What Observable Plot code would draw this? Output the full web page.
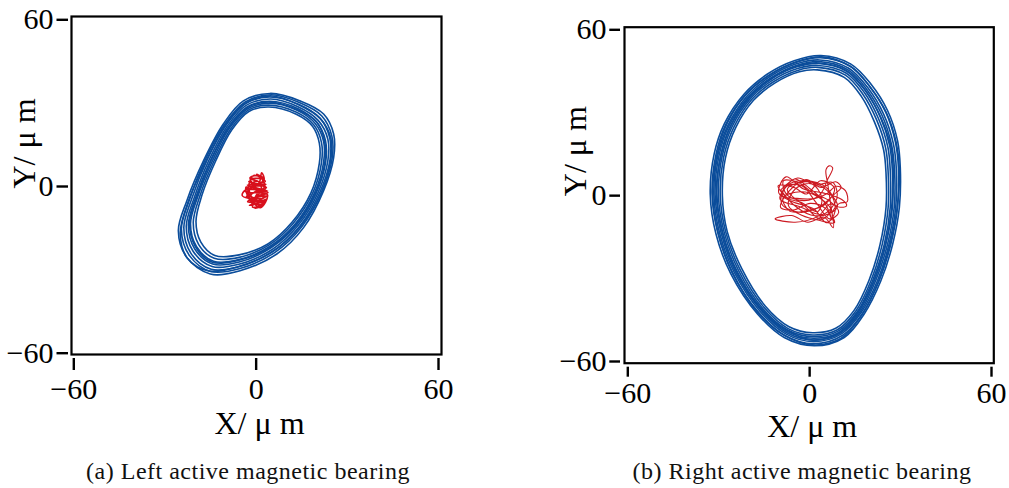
<!DOCTYPE html>
<html>
<head>
<meta charset="utf-8">
<script src="https://cdn.jsdelivr.net/npm/d3@7"></script>
<script src="https://cdn.jsdelivr.net/npm/@observablehq/plot@0.6"></script>
<style>
  html, body { margin: 0; padding: 0; background: #fff; }
  #wrap { position: relative; width: 1009px; height: 488px; overflow: hidden; background: #fff; }
  .panel { position: absolute; top: 0; }
  .cap { position: absolute; top: 459px; width: 460px; text-align: center;
         font-family: "Liberation Serif", "Times New Roman", Tinos, Times, serif; font-size: 24px; line-height: 24px;
         letter-spacing: 0.5px; color: #111; white-space: nowrap; }
  svg text { font-family: "Liberation Serif", "Times New Roman", Tinos, Times, serif; }
  g[aria-label="x-axis tick label"], g[aria-label="y-axis tick label"],
  g[aria-label="x-axis tick label"] text, g[aria-label="y-axis tick label"] text { font-size: 30px !important; }
</style>
</head>
<body>
<div id="wrap"></div>
<script>
// ---------- data (µm) ----------
const axisTicks = [-60, 0, 60];
const xAxisLabel = "X/ μ m";
const yAxisLabel = "Y/ μ m";
const captions = ["(a) Left active magnetic bearing", "(b) Right active magnetic bearing"];

// Left bearing: rotor orbit loops (blue)
const leftBlueLoops = [
  [[4.6,33.5],[14.5,30.8],[22.2,26.1],[25.5,18.9],[25.5,10.4],[22.2,-1.5],[15.6,-14.8],[6.8,-24.3],[-5.3,-30.3],[-15.1,-31.5],[-22.8,-25.6],[-25.6,-15.9],[-22.8,-5.1],[-17.3,9.3],[-10.8,22.5],[-4.2,30.8]],
  [[5.0,33.0],[14.2,30.2],[21.6,25.4],[24.9,18.2],[25.0,10.0],[21.6,-1.9],[15.0,-14.5],[6.2,-23.7],[-5.6,-29.6],[-14.9,-30.6],[-22.0,-24.8],[-24.6,-15.3],[-21.9,-4.6],[-16.8,9.5],[-10.4,22.3],[-3.6,30.4]],
  [[4.4,32.2],[13.9,29.6],[21.0,24.6],[24.2,17.6],[24.3,9.6],[21.0,-2.0],[14.4,-14.2],[5.8,-23.1],[-5.8,-28.9],[-14.8,-29.8],[-21.5,-24.0],[-23.8,-14.8],[-21.2,-4.4],[-16.2,9.4],[-10.0,21.9],[-3.6,29.8]],
  [[4.8,31.5],[13.6,28.8],[20.4,23.8],[23.6,17.0],[23.6,9.3],[20.4,-2.1],[13.9,-13.9],[5.4,-22.6],[-5.7,-28.0],[-14.5,-28.8],[-20.8,-23.2],[-23.0,-14.3],[-20.4,-4.1],[-15.6,9.3],[-9.6,21.6],[-3.3,29.2]],
  [[4.4,30.7],[13.8,28.0],[20.0,23.0],[22.8,16.6],[22.9,9.0],[19.8,-2.2],[13.4,-13.7],[5.0,-22.0],[-5.6,-27.2],[-14.3,-27.9],[-20.2,-22.5],[-22.3,-13.9],[-19.8,-3.8],[-15.0,9.3],[-9.2,21.3],[-3.0,28.6]],
  [[4.6,30.0],[13.5,27.4],[19.5,22.6],[22.2,16.2],[22.2,8.8],[19.2,-2.3],[12.9,-13.4],[4.6,-21.5],[-5.6,-26.3],[-14.0,-26.9],[-19.6,-21.7],[-21.6,-13.4],[-19.2,-3.6],[-14.4,9.2],[-8.8,21.0],[-2.8,28.0]],
  [[4.2,29.3],[13.3,26.7],[19.0,22.1],[21.5,15.8],[21.5,8.6],[18.6,-2.4],[12.3,-13.1],[4.3,-21.0],[-5.6,-25.5],[-13.8,-25.8],[-18.9,-20.9],[-20.7,-13.0],[-18.5,-3.3],[-13.9,9.1],[-8.4,20.7],[-2.6,27.5]],
  [[4.2,28.6],[13.2,26.0],[18.6,21.6],[20.8,15.5],[20.8,8.4],[18.0,-2.4],[11.8,-12.9],[4.0,-20.6],[-5.6,-24.6],[-13.6,-24.8],[-18.2,-20.0],[-19.8,-12.6],[-17.8,-3.0],[-13.4,9.0],[-8.0,20.4],[-2.4,27.0]],
  [[5.2,32.6],[14.0,29.4],[21.3,24.2],[24.6,17.3],[24.6,9.9],[21.3,-2.6],[14.8,-14.0],[5.6,-23.3],[-6.2,-29.0],[-15.6,-30.4],[-22.6,-25.8],[-25.0,-17.0],[-22.4,-5.6],[-16.6,8.9],[-10.2,22.0],[-3.4,30.0]],
  [[4.0,30.4],[13.0,27.9],[19.8,23.4],[22.5,16.4],[22.6,8.6],[19.4,-2.8],[13.0,-13.8],[4.8,-21.8],[-6.0,-26.6],[-14.6,-27.2],[-20.0,-21.6],[-21.9,-12.9],[-19.4,-3.2],[-14.8,9.6],[-9.0,21.2],[-2.9,28.4]]
];

// Left bearing: controlled orbit (red)
const leftRedPath = [[0.2,4.4],[2.3,3.1],[-1.8,2.8],[3.2,0.8],[-2.9,0.5],[3.8,-1.6],[-3.4,-1.2],[-4.6,-3.2],[-2.6,-4.2],[3.6,-3.4],[-2.2,-6.8],[3.2,-5.4],[-0.4,-7.8],[1.8,-7.0],[-1.6,-5.2],[3.9,-2.2],[-3.0,-2.0],[2.6,2.4],[1.8,4.9],[0.8,1.0],[-2.4,1.8],[3.4,-0.4],[-3.2,-3.6],[2.8,-6.0],[-1.2,-7.4],[0.6,-3.0],[-2.0,3.2],[1.2,3.6],[2.9,-1.0],[-3.3,-0.2],[-1.0,-6.2],[3.4,-4.6],[0.0,-5.6],[-2.8,-5.4],[2.0,-2.4],[-1.4,0.0],[3.0,1.8],[-0.8,4.0],[-2.6,-2.6],[1.4,-7.6],[3.7,-2.9],[-3.6,-1.8],[0.4,2.0],[2.2,-4.2],[-1.9,-3.4],[1.0,-1.2],[-0.6,-4.4],[2.6,0.0],[-2.2,-0.8],[0.2,-6.8]];

// Right bearing: rotor orbit loops (blue)
const rightBlueLoops = [
  [[3.7,50.7],[13.6,47.6],[20.2,40.4],[25.7,30.8],[29.0,19.9],[29.9,10.2],[29.6,-4.2],[27.4,-17.5],[23.5,-30.8],[18.0,-42.8],[11.4,-51.3],[1.5,-54.3],[-8.4,-51.3],[-17.2,-42.8],[-26.0,-28.3],[-30.9,-13.9],[-32.8,0.6],[-31.5,15.1],[-28.2,25.9],[-21.6,36.8],[-13.9,44.0],[-5.1,48.8]],
  [[3.5,49.9],[13.3,46.9],[19.7,39.7],[25.1,30.2],[28.3,19.4],[29.3,9.9],[29.0,-4.2],[26.8,-17.5],[22.9,-30.8],[17.5,-42.5],[10.9,-50.5],[1.4,-53.6],[-8.1,-50.7],[-16.8,-42.3],[-25.5,-28.0],[-30.2,-13.8],[-32.2,0.5],[-30.9,14.9],[-27.7,25.7],[-21.1,36.5],[-13.5,43.5],[-4.9,48.1]],
  [[3.3,49.1],[12.9,46.1],[19.2,39.0],[24.4,29.5],[27.6,18.9],[28.6,9.6],[28.4,-4.2],[26.2,-17.6],[22.4,-30.7],[17.0,-42.3],[10.5,-50.0],[1.3,-52.8],[-7.9,-50.0],[-16.4,-41.8],[-24.9,-27.7],[-29.7,-13.6],[-31.6,0.4],[-30.3,14.6],[-27.0,25.3],[-20.6,36.1],[-13.2,43.0],[-4.6,47.6]],
  [[3.2,48.5],[12.7,45.5],[18.8,38.5],[23.9,29.0],[27.0,18.5],[28.0,9.3],[27.9,-4.2],[25.7,-17.6],[21.8,-30.7],[16.6,-42.2],[10.1,-49.7],[1.3,-52.2],[-7.7,-49.5],[-16.0,-41.5],[-24.5,-27.5],[-29.2,-13.5],[-31.2,0.3],[-29.9,14.5],[-26.6,25.3],[-20.3,35.7],[-12.8,42.6],[-4.4,47.1]],
  [[3.0,47.8],[12.4,44.9],[18.4,38.0],[23.3,28.5],[26.4,18.1],[27.3,9.1],[27.3,-4.2],[25.1,-17.7],[21.3,-30.7],[16.1,-42.1],[9.8,-49.4],[1.2,-51.6],[-7.5,-49.1],[-15.8,-41.3],[-24.0,-27.3],[-28.7,-13.4],[-30.6,0.3],[-29.4,14.3],[-26.1,25.2],[-19.9,35.4],[-12.5,42.3],[-4.2,46.6]],
  [[2.9,47.1],[12.1,44.3],[18.0,37.4],[22.7,27.9],[25.8,17.6],[26.6,8.8],[26.6,-4.2],[24.6,-17.7],[20.8,-30.7],[15.7,-42.0],[9.4,-49.0],[1.1,-51.0],[-7.3,-48.6],[-15.4,-40.9],[-23.5,-27.0],[-28.2,-13.3],[-30.1,0.2],[-28.9,14.1],[-25.6,25.0],[-19.5,35.2],[-12.2,41.8],[-4.0,46.0]],
  [[2.7,46.4],[11.8,43.6],[17.5,36.8],[22.1,27.4],[25.1,17.1],[25.9,8.4],[25.9,-4.2],[23.9,-17.8],[20.3,-30.6],[15.2,-41.8],[9.0,-48.6],[1.1,-50.4],[-7.1,-48.1],[-15.0,-40.5],[-23.0,-26.7],[-27.7,-13.1],[-29.5,0.1],[-28.4,13.8],[-25.0,24.8],[-19.1,34.8],[-11.8,41.3],[-3.7,45.4]],
  [[2.5,45.5],[11.4,42.8],[17.0,36.0],[21.4,26.6],[24.4,16.6],[25.2,8.0],[25.2,-4.2],[23.2,-17.8],[19.6,-30.6],[14.6,-41.6],[8.6,-48.0],[1.0,-49.6],[-6.8,-47.4],[-14.6,-40.0],[-22.4,-26.4],[-27.2,-13.0],[-28.8,0.0],[-27.8,13.6],[-24.4,24.6],[-18.6,34.4],[-11.4,40.8],[-3.4,44.8]],
  [[4.0,50.2],[13.8,46.5],[20.0,39.2],[25.4,29.8],[28.6,19.0],[29.6,9.5],[28.8,-5.0],[26.4,-18.2],[22.6,-31.4],[17.2,-43.2],[10.4,-51.6],[0.8,-54.0],[-8.8,-50.2],[-17.6,-41.6],[-25.8,-27.0],[-30.4,-12.6],[-32.0,1.2],[-30.4,15.6],[-27.2,26.2],[-20.8,36.9],[-13.0,43.8],[-4.4,48.4]],
  [[3.1,48.0],[12.2,45.2],[18.6,37.8],[23.6,28.0],[26.8,17.8],[27.6,8.6],[27.0,-5.0],[24.8,-18.6],[21.0,-31.4],[15.6,-42.9],[9.0,-50.2],[0.6,-52.2],[-7.9,-48.4],[-16.2,-40.6],[-24.6,-26.4],[-29.0,-12.4],[-30.8,1.0],[-29.2,14.8],[-25.9,25.6],[-19.8,35.9],[-12.4,42.6],[-4.1,46.9]]
];

// Right bearing: controlled orbit (red)
const rightRedPath = [[-9.6,2.0],[-4.0,6.4],[2.0,3.8],[7.6,4.8],[9.0,-1.0],[4.2,-6.8],[-3.2,-4.0],[-9.8,-1.2],[-6.4,4.4],[0.6,5.2],[6.2,2.2],[8.4,-5.6],[5.6,-9.8],[1.4,-4.8],[-5.6,-2.2],[-10.2,1.0],[-7.8,6.8],[-2.0,2.4],[4.4,1.0],[10.6,-1.4],[12.2,-3.6],[10.0,-4.2],[6.8,-3.0],[2.8,-7.4],[-4.8,-9.6],[-11.4,-8.4],[-6.0,-7.2],[-0.6,-9.6],[4.8,-7.8],[7.8,-11.6],[7.0,-3.6],[6.0,4.0],[5.4,9.4],[6.6,10.8],[7.6,10.0],[6.0,6.0],[3.4,0.4],[-1.8,-1.8],[-7.6,0.4],[-8.6,5.4],[-3.4,4.6],[1.2,0.8],[6.4,-1.8],[9.6,-6.0],[6.6,-8.4],[2.2,-2.6],[-2.6,3.6],[-8.0,3.2],[-9.2,-3.0],[-3.4,-6.0],[3.0,-4.2],[8.0,0.4],[10.4,3.0],[8.6,5.0],[3.8,3.0],[-1.2,5.8],[-6.8,1.6],[-9.6,-4.2],[-5.4,-5.2],[0.2,-2.8],[5.2,-4.6],[7.4,-8.8],[4.6,-2.0],[0.0,2.6],[-5.0,6.0],[-9.0,0.0],[-4.2,-1.0],[1.8,-1.0],[5.8,0.8],[8.8,3.4],[11.8,1.8],[12.4,-2.2],[9.8,-2.8],[7.4,-6.4],[8.2,-9.8],[3.4,-9.0],[-2.4,-7.2],[-7.0,-3.6],[-4.6,2.6],[0.8,4.2],[4.0,-0.8],[2.6,-5.8],[-2.8,-2.4],[-7.2,-1.0],[-10.4,3.6],[-5.2,3.0],[-1.0,0.6],[3.6,5.4],[8.2,2.6],[5.0,-3.2],[-0.8,-5.4],[-6.6,-5.6],[-8.8,-0.8],[-3.0,1.4],[2.4,-0.2],[7.0,-5.2],[3.8,-8.6],[-1.6,-3.8],[-7.4,2.2],[-2.2,5.0],[4.2,3.2],[9.2,-3.8],[6.2,-6.6],[0.4,-7.0],[-5.2,-3.4],[-9.4,1.8]];

// ---------- drawing ----------
const BLUE = "#0b4d9b";
const FONT = "'Liberation Serif', 'Times New Roman', Tinos, Times, serif";

function panel(o) {
  return Plot.plot({
    width: o.width, height: o.height,
    marginLeft: o.mL, marginRight: o.mR, marginTop: o.mT, marginBottom: o.mB,
    insetLeft: o.iL, insetRight: o.iR, insetTop: o.iT, insetBottom: o.iB,
    x: {domain: [-60, 60]},
    y: {domain: [-60, 60]},
    style: {fontFamily: FONT, fontSize: "30px", color: "#000", background: "transparent", overflow: "visible"},
    marks: [
      ...o.loops.map(loop => Plot.line(loop, {x: d => d[0], y: d => d[1], curve: "catmull-rom-closed", stroke: BLUE, strokeWidth: 1.6})),
      Plot.line(o.red, {x: d => d[0], y: d => d[1], curve: "catmull-rom", stroke: o.redColor, strokeWidth: o.redW}),
      Plot.frame({stroke: "#000", strokeWidth: 2.2}),
      Plot.axisX({ticks: axisTicks, tickSize: o.xTS, tickPadding: o.xTP, dy: o.xDy, strokeWidth: 2.4, fontSize: 30, label: null}),
      Plot.axisY({ticks: axisTicks, tickSize: o.yTS, tickPadding: o.yTP, dx: o.yDx, strokeWidth: 2.4, fontSize: 30, label: null}),
      Plot.text([xAxisLabel], {text: d => d, frameAnchor: "bottom", lineAnchor: "bottom", dy: o.xlDy, dx: o.xlDx, fontSize: 32, fill: "#000"}),
      Plot.text([yAxisLabel], {text: d => d, frameAnchor: "left", rotate: -90, dx: o.ylDx, dy: o.ylDy, fontSize: 32, fill: "#000"})
    ]
  });
}

const wrap = document.getElementById("wrap");

const left = panel({
  width: 460, height: 440, mL: 71, mR: 19, mT: 16, mB: 86,
  iL: 2.3, iR: 3, iT: 3.3, iB: 1.3,
  loops: leftBlueLoops, red: leftRedPath, redColor: "#d8101c", redW: 1.6,
  xTS: 12, xTP: 7, xDy: 4, yTS: 11.5, yTP: 3.5, yDx: -3,
  xlDy: 79, xlDx: 3, ylDx: -47, ylDy: 3
});
left.classList.add("panel");
left.style.left = "0px";
wrap.appendChild(left);

const right = panel({
  width: 459, height: 440, mL: 74, mR: 15.7, mT: 26.7, mB: 77.3,
  iL: 3.3, iR: 2.3, iT: 2.6, iB: 1.7,
  loops: rightBlueLoops, red: rightRedPath, redColor: "#cc1a22", redW: 1.1,
  xTS: 10, xTP: 4, xDy: 4, yTS: 10.7, yTP: 3.3, yDx: -4,
  xlDy: 74, xlDx: 3, ylDx: -49, ylDy: 1
});
right.classList.add("panel");
right.style.left = "550px";
wrap.appendChild(right);

const capA = document.createElement("div");
capA.className = "cap"; capA.style.left = "18px"; capA.textContent = captions[0];
wrap.appendChild(capA);
const capB = document.createElement("div");
capB.className = "cap"; capB.style.left = "572px"; capB.textContent = captions[1];
wrap.appendChild(capB);
</script>
</body>
</html>
